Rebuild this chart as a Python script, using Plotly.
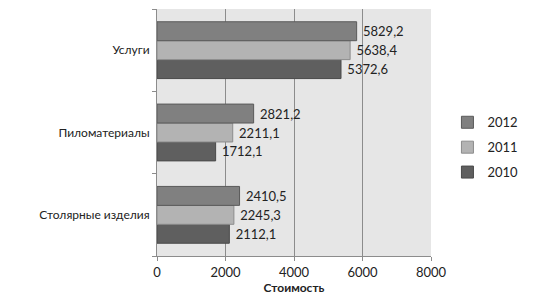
import plotly.graph_objects as go

categories = ["Столярные изделия", "Пиломатериалы", "Услуги"]
years = ["2010", "2011", "2012"]
v2010 = [2112.1, 1712.1, 5372.6]
v2011 = [2245.3, 2211.1, 5638.4]
v2012 = [2410.5, 2821.2, 5829.2]
x_ticks = [0, 2000, 4000, 6000, 8000]

series = {"2010": v2010, "2011": v2011, "2012": v2012}
colors = {"2010": "#5f5f5f", "2011": "#b3b3b3", "2012": "#808080"}
borders = {"2010": "#4a4a4a", "2011": "#8c8c8c", "2012": "#5a5a5a"}
ranks = {"2010": 3, "2011": 2, "2012": 1}

fig = go.Figure()
for y in years:
    vals = series[y]
    fig.add_trace(go.Bar(
        y=categories, x=vals, name=y, orientation="h", legendgroup=y,
        legendrank=ranks[y],
        marker=dict(color=colors[y], line=dict(color=borders[y], width=1)),
        text=["\u00a0" + f"{v:.1f}".replace(".", ",") for v in vals],
        textposition="outside", cliponaxis=False,
        textfont=dict(family="Lato, Open Sans, sans-serif", size=13, color="#222"),
    ))

fig.update_layout(
    width=538, height=296,
    margin=dict(l=157, r=107, t=9, b=40, autoexpand=False),
    paper_bgcolor="white", plot_bgcolor="#e6e6e6",
    barmode="group", bargap=0.31, bargroupgap=0,
    font=dict(family="Lato, Open Sans, sans-serif", size=12, color="#222"),
    legend=dict(x=1.06, y=0.44, xanchor="left", yanchor="middle",
                traceorder="grouped", font=dict(size=13),
                itemwidth=30, tracegroupgap=5),
    showlegend=True,
)
fig.update_xaxes(range=[0, 8000], tickvals=x_ticks, ticktext=[str(t) for t in x_ticks],
                 showgrid=True, gridcolor="#8c8c8c", gridwidth=1,
                 showline=True, linecolor="#8c8c8c", ticks="outside", ticklen=4,
                 tickcolor="#8c8c8c", zeroline=False, tickfont=dict(size=13),
                 title=dict(text="<b>Стоимость</b>", standoff=3, font=dict(size=12)))
fig.update_yaxes(categoryorder="array", categoryarray=categories,
                 showline=True, linecolor="#8c8c8c", ticks="outside", tickson="boundaries",
                 ticklen=4, tickcolor="#8c8c8c", showgrid=False,
                 ticklabelstandoff=4, tickfont=dict(size=12))

fig.write_html("out.html")
